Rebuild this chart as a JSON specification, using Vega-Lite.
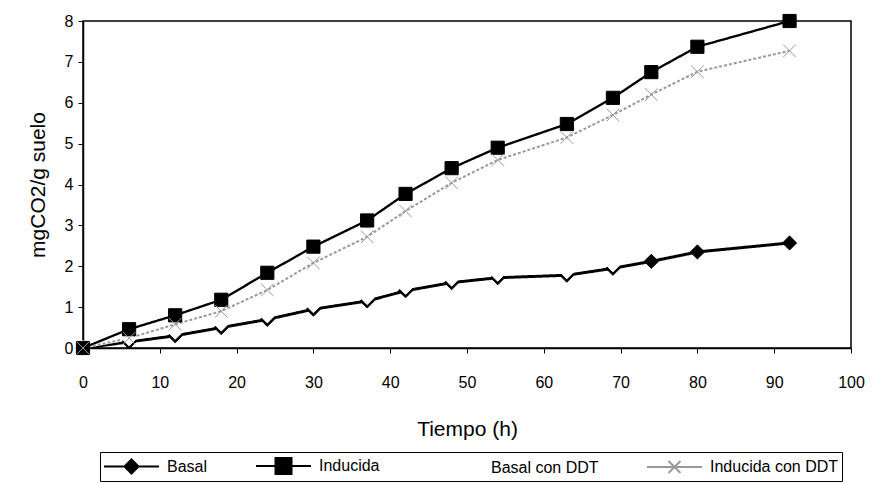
{
  "$schema": "https://vega.github.io/schema/vega-lite/v6.json",
  "width": 768,
  "height": 327,
  "autosize": {"type": "none"},
  "padding": {"left": 83, "top": 21, "right": 23, "bottom": 136},
  "config": {
    "view": {"stroke": "black", "strokeWidth": 1.5},
    "font": "Liberation Sans",
    "axis": {
      "grid": false,
      "domainColor": "black",
      "domainWidth": 1.5,
      "tickColor": "black",
      "tickSize": 5,
      "labelColor": "black",
      "titleColor": "black",
      "labelFontSize": 16,
      "titleFontSize": 21,
      "titleFontWeight": "normal",
      "labelFont": "Liberation Sans",
      "titleFont": "Liberation Sans"
    },
    "legend": {
      "orient": "none",
      "legendX": 17,
      "legendY": 431,
      "direction": "horizontal",
      "columns": 4,
      "strokeColor": "black",
      "padding": 3,
      "labelFontSize": 16,
      "labelFont": "Liberation Sans",
      "labelColor": "black",
      "symbolSize": 400,
      "symbolStrokeWidth": 2,
      "labelOffset": 42,
      "columnPadding": 44,
      "title": null
    }
  },
  "data": {
    "values": [
      {"t": 0, "serie": "Basal", "v": 0},
      {"t": 6, "serie": "Basal", "v": 0.15},
      {"t": 12, "serie": "Basal", "v": 0.3},
      {"t": 18, "serie": "Basal", "v": 0.5},
      {"t": 24, "serie": "Basal", "v": 0.7},
      {"t": 30, "serie": "Basal", "v": 0.95},
      {"t": 37, "serie": "Basal", "v": 1.15},
      {"t": 42, "serie": "Basal", "v": 1.4},
      {"t": 48, "serie": "Basal", "v": 1.6},
      {"t": 54, "serie": "Basal", "v": 1.72},
      {"t": 63, "serie": "Basal", "v": 1.78},
      {"t": 69, "serie": "Basal", "v": 1.95},
      {"t": 74, "serie": "Basal", "v": 2.12},
      {"t": 80, "serie": "Basal", "v": 2.35},
      {"t": 92, "serie": "Basal", "v": 2.57},
      {"t": 0, "serie": "Basal con DDT", "v": 0.02},
      {"t": 6, "serie": "Basal con DDT", "v": 0.22},
      {"t": 12, "serie": "Basal con DDT", "v": 0.38},
      {"t": 18, "serie": "Basal con DDT", "v": 0.58},
      {"t": 24, "serie": "Basal con DDT", "v": 0.78},
      {"t": 30, "serie": "Basal con DDT", "v": 1.03},
      {"t": 37, "serie": "Basal con DDT", "v": 1.23},
      {"t": 42, "serie": "Basal con DDT", "v": 1.48},
      {"t": 48, "serie": "Basal con DDT", "v": 1.68},
      {"t": 54, "serie": "Basal con DDT", "v": 1.8},
      {"t": 63, "serie": "Basal con DDT", "v": 1.86},
      {"t": 69, "serie": "Basal con DDT", "v": 2.03},
      {"t": 0, "serie": "Inducida", "v": 0},
      {"t": 6, "serie": "Inducida", "v": 0.46},
      {"t": 12, "serie": "Inducida", "v": 0.8},
      {"t": 18, "serie": "Inducida", "v": 1.18},
      {"t": 24, "serie": "Inducida", "v": 1.84},
      {"t": 30, "serie": "Inducida", "v": 2.48},
      {"t": 37, "serie": "Inducida", "v": 3.12},
      {"t": 42, "serie": "Inducida", "v": 3.77},
      {"t": 48, "serie": "Inducida", "v": 4.4},
      {"t": 54, "serie": "Inducida", "v": 4.9},
      {"t": 63, "serie": "Inducida", "v": 5.48},
      {"t": 69, "serie": "Inducida", "v": 6.12},
      {"t": 74, "serie": "Inducida", "v": 6.75},
      {"t": 80, "serie": "Inducida", "v": 7.37},
      {"t": 92, "serie": "Inducida", "v": 8.0},
      {"t": 0, "serie": "Inducida con DDT", "v": 0},
      {"t": 6, "serie": "Inducida con DDT", "v": 0.24},
      {"t": 12, "serie": "Inducida con DDT", "v": 0.58},
      {"t": 18, "serie": "Inducida con DDT", "v": 0.9},
      {"t": 24, "serie": "Inducida con DDT", "v": 1.42},
      {"t": 30, "serie": "Inducida con DDT", "v": 2.08},
      {"t": 37, "serie": "Inducida con DDT", "v": 2.72},
      {"t": 42, "serie": "Inducida con DDT", "v": 3.35},
      {"t": 48, "serie": "Inducida con DDT", "v": 4.04},
      {"t": 54, "serie": "Inducida con DDT", "v": 4.6},
      {"t": 63, "serie": "Inducida con DDT", "v": 5.15},
      {"t": 69, "serie": "Inducida con DDT", "v": 5.7},
      {"t": 74, "serie": "Inducida con DDT", "v": 6.2},
      {"t": 80, "serie": "Inducida con DDT", "v": 6.76},
      {"t": 92, "serie": "Inducida con DDT", "v": 7.27}
    ]
  },
  "encoding": {
    "x": {
      "field": "t",
      "type": "quantitative",
      "title": "Tiempo (h)",
      "scale": {"domain": [0, 100], "nice": false},
      "axis": {"values": [0, 10, 20, 30, 40, 50, 60, 70, 80, 90, 100], "labelPadding": 21, "titlePadding": 28, "labelFlush": false}
    },
    "y": {
      "field": "v",
      "type": "quantitative",
      "title": "mgCO2/g suelo",
      "scale": {"domain": [0, 8], "nice": false},
      "axis": {"values": [0, 1, 2, 3, 4, 5, 6, 7, 8], "labelPadding": 5, "titlePadding": 16, "labelFlush": false}
    }
  },
  "layer": [
    {
      "mark": {"type": "line"},
      "encoding": {
        "stroke": {"field": "serie", "type": "nominal", "legend": null,
          "scale": {"domain": ["Basal", "Basal con DDT", "Inducida", "Inducida con DDT"], "range": ["black", "white", "black", "#999999"]}},
        "strokeWidth": {"field": "serie", "type": "nominal", "legend": null,
          "scale": {"domain": ["Basal", "Basal con DDT", "Inducida", "Inducida con DDT"], "range": [3, 2, 2.5, 1.2]}},
        "strokeDash": {"field": "serie", "type": "nominal", "legend": null,
          "scale": {"domain": ["Basal", "Basal con DDT", "Inducida", "Inducida con DDT"], "range": [[1, 0], [1, 0], [1, 0], [3, 2]]}}
      }
    },
    {
      "mark": {"type": "point", "filled": true, "opacity": 1, "strokeWidth": 1},
      "encoding": {
        "shape": {"field": "serie", "type": "nominal", "legend": null,
          "scale": {"domain": ["Basal", "Basal con DDT", "Inducida", "Inducida con DDT"], "range": ["diamond", "diamond", "square", "M-1,-1L1,1M-1,1L1,-1"]}},
        "fill": {"field": "serie", "type": "nominal", "legend": null,
          "scale": {"domain": ["Basal", "Basal con DDT", "Inducida", "Inducida con DDT"], "range": ["black", "white", "black", "transparent"]}},
        "stroke": {"field": "serie", "type": "nominal", "legend": null,
          "scale": {"domain": ["Basal", "Basal con DDT", "Inducida", "Inducida con DDT"], "range": ["black", "white", "black", "#999999"]}},
        "size": {"field": "serie", "type": "nominal", "legend": null,
          "scale": {"domain": ["Basal", "Basal con DDT", "Inducida", "Inducida con DDT"], "range": [200, 160, 280, 130]}}
      }
    },
    {
      "transform": [{"filter": "datum.t < 0"}],
      "mark": {"type": "point", "filled": true, "opacity": 1},
      "encoding": {
        "shape": {"field": "serie", "type": "nominal",
          "scale": {"domain": ["Basal", "Inducida", "Basal con DDT", "Inducida con DDT"], "range": ["M-1,0L4.5,0M1.05,0L1.75,-0.7L2.45,0L1.75,0.7Z", "M-1,0L4.5,0M0.95,-0.8L2.55,-0.8L2.55,0.8L0.95,0.8Z", "M-1,0L4.5,0", "M-1,0L4.5,0M1.15,-0.6L2.35,0.6M1.15,0.6L2.35,-0.6"]}},
        "fill": {"field": "serie", "type": "nominal",
          "scale": {"domain": ["Basal", "Inducida", "Basal con DDT", "Inducida con DDT"], "range": ["black", "black", "white", "transparent"]}},
        "stroke": {"field": "serie", "type": "nominal",
          "scale": {"domain": ["Basal", "Inducida", "Basal con DDT", "Inducida con DDT"], "range": ["black", "black", "white", "#999999"]}}
      }
    }
  ],
  "resolve": {"scale": {"shape": "independent", "fill": "independent", "stroke": "independent"}, "legend": {"shape": "independent", "fill": "independent", "stroke": "independent"}}
}
